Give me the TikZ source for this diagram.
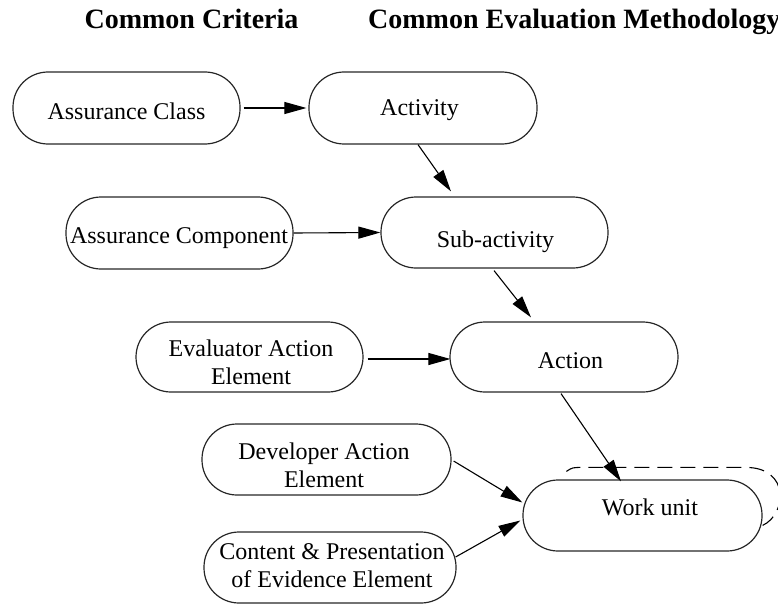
\documentclass[tikz,border=0pt]{standalone}
\usepackage{fontspec}
\setmainfont{Liberation Serif}
\usetikzlibrary{arrows.meta,calc}
\begin{document}
\begin{tikzpicture}[x=1pt,y=-1pt,
  box/.style={draw=black!85,line width=1.2pt,rectangle,rounded corners=35pt,inner sep=0pt,minimum height=71pt},
  lbl/.style={inner sep=0pt,font=\fontsize{24}{28}\selectfont,align=center},
  ttl/.style={inner sep=0pt,font=\fontsize{28}{32}\selectfont\bfseries,anchor=base},
  arr/.style={line width=1.1pt,-{Triangle[length=22pt,width=12pt]}},
  loop/.style={line width=1.1pt,dash pattern=on 15pt off 8pt}
]
\useasboundingbox (0,0) rectangle (778,607);
% titles
\node[ttl] (t1) at (191.5,29) {Common Criteria};
\node[ttl,anchor=base west] (t2) at (368,29) {Common Evaluation Methodology};
% boxes
\node[box,minimum width=227pt,minimum height=72pt] (ac) at (126.5,108) {};
\node[box,minimum width=228pt,minimum height=72pt] (act) at (423,108) {};
\node[box,minimum width=227pt,minimum height=72pt] (acomp) at (179.5,233) {};
\node[box,minimum width=227pt] (sub) at (494.5,232.5) {};
\node[box,minimum width=227pt,minimum height=70pt] (eae) at (249.5,357) {};
\node[box,minimum width=228pt,minimum height=70pt] (action) at (564,357) {};
\node[box,minimum width=249pt] (dae) at (326.5,459.5) {};
\node[box,minimum width=252pt] (cpe) at (330,567.5) {};
\node[box,minimum width=239pt] (wu) at (642.5,515.5) {};
% texts
\node[lbl,anchor=base] (acT) at (126.5,119) {Assurance Class};
\node[lbl,anchor=base] (actT) at (419.5,115) {Activity};
\node[lbl,anchor=base] (acompT) at (179,243) {Assurance Component};
\node[lbl,anchor=base] (subT) at (495.5,247) {Sub-activity};
\node[lbl] (eaeT) at (251,362) {Evaluator Action\\Element};
\node[lbl,anchor=base] (actionT) at (570.5,368) {Action};
\node[lbl] (daeT) at (324,465) {Developer Action\\Element};
\node[lbl] (cpeT) at (332,566) {Content \& Presentation\\of Evidence Element};
\node[lbl,anchor=base] (wuT) at (650,515) {Work unit};
% connectors
\draw[arr,shorten <=3pt,shorten >=2pt] (ac.east) -- (act.west);
\draw[arr] ($(act.south)+(-5,0)$) -- ($(sub.north)+(-43.5,-5)$);
\draw[arr] (acomp.east) -- (sub.west);
\draw[arr] ($(sub.south)+(-0.5,2)$) -- ($(action.north)+(-33,-4)$);
\draw[arr,shorten <=4pt,shorten >=-1pt] ($(eae.east)+(0,2)$) -- ($(action.west)+(0,2)$);
\draw[arr] ($(action.south)+(-3,1)$) -- ($(wu.north)+(-21.5,2)$);
\draw[arr] ($(dae.east)+(2,1.5)$) -- ($(wu.west)+(0,-13)$);
\draw[arr] ($(cpe.east)+(-1,-10.5)$) -- ($(wu.west)+(-2,5)$);
\draw[loop] ($(wu.north west)+(44,-8)$) .. controls ($(wu.north west)+(50,-12)$) .. ($(wu.north west)+(62,-12)$)
  -- ($(wu.north east)+(-17,-12)$)
  .. controls ($(wu.north east)+(28,-12)$) and ($(wu.north east)+(24,35)$) .. ($(wu.north east)+(0,46)$);
\end{tikzpicture}
\end{document}
